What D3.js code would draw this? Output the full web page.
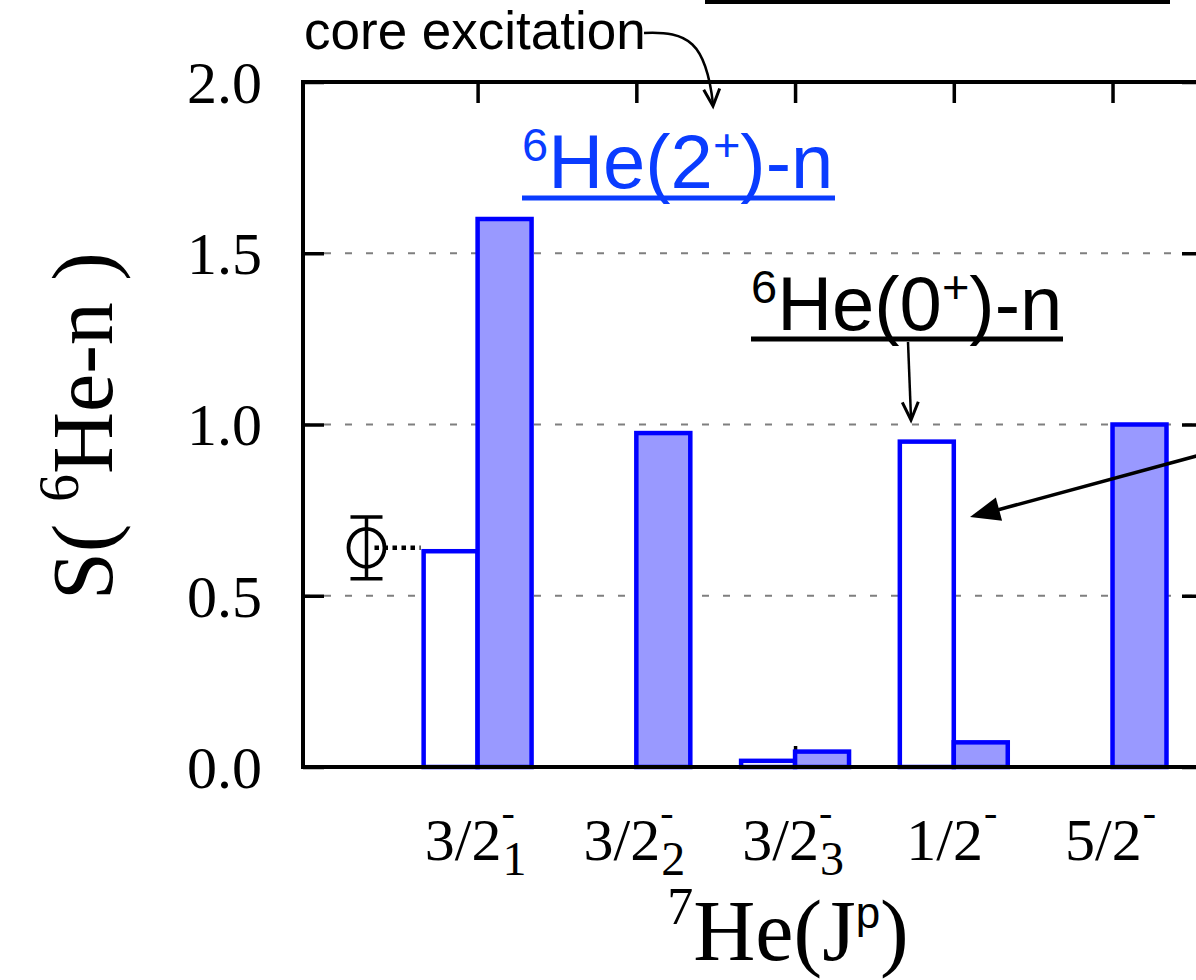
<!DOCTYPE html>
<html>
<head>
<meta charset="utf-8">
<script src="https://cdn.jsdelivr.net/npm/d3@7/dist/d3.min.js"></script>
<style>
  html, body { margin: 0; padding: 0; background: #fff; }
  svg { display: block; }
</style>
</head>
<body>
<svg id="chart" width="1196" height="980"></svg>
<script>
// 7He states (J^pi) and spectroscopic factors of the 6He-n channels
const states      = ["3/2", "3/2", "3/2", "1/2", "5/2"];
const stateSub    = ["1", "2", "3", "", ""];
const stateSup    = ["-", "-", "-", "-", "-"];
const coreGround  = [0.63, 0.0, 0.018, 0.95, 0.0];    // 6He(0+)-n
const coreExcited = [1.60, 0.975, 0.045, 0.072, 1.0]; // 6He(2+)-n

// experimental value for the ground state
const expPos   = [-0.7];
const expValue = [0.64];
const expError = [0.09];

const yTickValues = [0, 0.5, 1.0, 1.5, 2.0];
const yGridValues = [0.5, 1.0, 1.5];

const svg = d3.select("#chart");
const plot = { left: 303, right: 1203, top: 82, bottom: 767 };
const x = d3.scaleLinear().domain([-1.1, 4.57]).range([plot.left, plot.right]);
const y = d3.scaleLinear().domain([0, 2]).range([plot.bottom, plot.top]);
const barW = 0.34;
const tickLen = 21;

const serif = "'Liberation Serif','Times New Roman',Times,serif";
const sans  = "'Liberation Sans',Arial,Helvetica,sans-serif";
const barStroke = "#0000ff";
const barFill = "#9999ff";

// dashed grid
svg.append("g").selectAll("line").data(yGridValues).join("line")
  .attr("x1", plot.left).attr("x2", plot.right)
  .attr("y1", d => y(d)).attr("y2", d => y(d))
  .attr("stroke", "#7f7f7f").attr("stroke-width", 2.2)
  .attr("stroke-dasharray", "7,14");

// inward ticks on all four sides
function styleTicks(g) {
  g.select(".domain").remove();
  g.selectAll(".tick line").attr("stroke", "#000").attr("stroke-width", 3.5);
}
const idx = d3.range(states.length);

svg.append("g").attr("transform", `translate(0,${plot.bottom})`)
  .call(d3.axisBottom(x).tickValues(idx).tickSizeInner(-tickLen).tickSizeOuter(0).tickFormat(""))
  .call(styleTicks);
svg.append("g").attr("transform", `translate(0,${plot.top})`)
  .call(d3.axisTop(x).tickValues(idx).tickSizeInner(-tickLen).tickSizeOuter(0).tickFormat(""))
  .call(styleTicks);
svg.append("g").attr("transform", `translate(${plot.right},0)`)
  .call(d3.axisRight(y).tickValues(yTickValues).tickSizeInner(-tickLen).tickSizeOuter(0).tickFormat(""))
  .call(styleTicks);

const yAxis = svg.append("g").attr("transform", `translate(${plot.left},0)`)
  .call(d3.axisLeft(y).tickValues(yTickValues).tickSizeInner(-tickLen).tickSizeOuter(0)
    .tickPadding(41).tickFormat(d3.format(".1f")))
  .call(styleTicks);
yAxis.selectAll(".tick text")
  .attr("font-family", serif).attr("font-size", 60).attr("fill", "#000")
  .attr("dy", "0.34em");

// bars: 6He(0+)-n (open) and 6He(2+)-n (filled)
const bars = svg.append("g");
bars.selectAll("rect.ground").data(coreGround).join("rect")
  .attr("class", "ground")
  .attr("x", (d, i) => x(i - barW)).attr("width", (d, i) => x(i) - x(i - barW))
  .attr("y", d => y(d)).attr("height", d => y(0) - y(d))
  .attr("fill", "#fff").attr("stroke", barStroke).attr("stroke-width", 4.5);
bars.selectAll("rect.excited").data(coreExcited).join("rect")
  .attr("class", "excited")
  .attr("x", (d, i) => x(i)).attr("width", (d, i) => x(i + barW) - x(i))
  .attr("y", d => y(d)).attr("height", d => y(0) - y(d))
  .attr("fill", barFill).attr("stroke", barStroke).attr("stroke-width", 4.5);

// frame
const frame = svg.append("g").attr("stroke", "#000").attr("stroke-width", 4);
frame.append("line").attr("x1", plot.left).attr("x2", plot.right).attr("y1", plot.bottom).attr("y2", plot.bottom);
frame.append("line").attr("x1", plot.left).attr("x2", plot.right).attr("y1", plot.top).attr("y2", plot.top);
frame.append("line").attr("x1", plot.left).attr("x2", plot.left).attr("y1", plot.top - 2).attr("y2", plot.bottom + 2);
frame.append("line").attr("x1", plot.right).attr("x2", plot.right).attr("y1", plot.top - 2).attr("y2", plot.bottom + 2);

// category labels J^pi with state index (subscript) and parity (superscript)
const labelY = 860;
const catLabels = svg.append("g").attr("font-family", serif).attr("font-size", 60).attr("fill", "#000");
idx.forEach(i => {
  const t = catLabels.append("text").attr("text-anchor", "middle")
    .attr("x", x(i) - 2).attr("y", labelY);
  t.append("tspan").text(states[i]);
  if (stateSub[i]) {
    t.append("tspan").attr("font-size", 48).attr("dx", 1).attr("dy", 15).text(stateSub[i]);
    t.append("tspan").attr("font-size", 40).attr("dx", -25).attr("dy", -49).text(stateSup[i]);
  } else {
    t.append("tspan").attr("font-size", 40).attr("dx", 1).attr("dy", -34).text(stateSup[i]);
  }
});

// axis titles
const xTitle = svg.append("text").attr("font-family", serif).attr("font-size", 86)
  .attr("text-anchor", "middle").attr("x", 788).attr("y", 960);
xTitle.append("tspan").attr("font-size", 52).attr("dy", -36).text("7");
xTitle.append("tspan").attr("dy", 36).text("He(J");
xTitle.append("tspan").attr("font-family", sans).attr("font-size", 44).attr("dy", -32).text("p");
xTitle.append("tspan").attr("dy", 32).text(")");

const yTitle = svg.append("text").attr("font-family", serif).attr("font-size", 86)
  .attr("text-anchor", "middle")
  .attr("transform", "translate(112,426) rotate(-90)");
yTitle.append("tspan").text("S( ");
yTitle.append("tspan").attr("font-size", 56).attr("dy", -34).text("6");
yTitle.append("tspan").attr("dy", 34).text("He-n )");

// experimental point with error bar, joined to the calculated ground state
const expG = svg.append("g").attr("stroke", "#000").attr("fill", "none");
expPos.forEach((p, k) => {
  const cx = x(p), cy = y(expValue[k]);
  expG.append("line").attr("x1", cx + 8).attr("x2", x(0 - barW) - 3)
    .attr("y1", cy).attr("y2", cy)
    .attr("stroke-width", 4.5).attr("stroke-dasharray", "4.5,4.5");
  expG.append("line").attr("x1", cx).attr("x2", cx)
    .attr("y1", y(expValue[k] + expError[k])).attr("y2", y(expValue[k] - expError[k]))
    .attr("stroke-width", 3.5);
  [expValue[k] + expError[k], expValue[k] - expError[k]].forEach(v => {
    expG.append("line").attr("x1", cx - 16).attr("x2", cx + 16)
      .attr("y1", y(v)).attr("y2", y(v)).attr("stroke-width", 3.5);
  });
  expG.append("ellipse").attr("cx", cx).attr("cy", cy).attr("rx", 18).attr("ry", 19)
    .attr("stroke-width", 3.8);
});

// annotations
function head(g, tip, from, len, half, filled) {
  const a = Math.atan2(tip[1] - from[1], tip[0] - from[0]);
  const p1 = [tip[0] - len * Math.cos(a) + half * Math.sin(a), tip[1] - len * Math.sin(a) - half * Math.cos(a)];
  const p2 = [tip[0] - len * Math.cos(a) - half * Math.sin(a), tip[1] - len * Math.sin(a) + half * Math.cos(a)];
  if (filled) {
    g.append("path").attr("d", `M${p1}L${tip}L${p2}Z`).attr("fill", "#000");
  } else {
    g.append("path").attr("d", `M${p1}L${tip}L${p2}`).attr("fill", "none")
      .attr("stroke", "#000").attr("stroke-width", 3);
  }
}
const ann = svg.append("g");

ann.append("text").attr("font-family", sans).attr("font-size", 53)
  .attr("x", 304).attr("y", 49).text("core excitation");
ann.append("path").attr("d", "M644,33 C688,31 706,42 713,104")
  .attr("fill", "none").attr("stroke", "#000").attr("stroke-width", 2.5);
head(ann, [713, 106], [711, 80], 17, 8, false);

const exLabel = ann.append("text").attr("font-family", sans).attr("font-size", 76)
  .attr("fill", "#0a3cff").attr("x", 522).attr("y", 188);
exLabel.append("tspan").attr("font-size", 47).attr("dy", -27).text("6");
exLabel.append("tspan").attr("dy", 27).text("He(2");
exLabel.append("tspan").attr("font-size", 47).attr("dy", -27).text("+");
exLabel.append("tspan").attr("dy", 27).text(")-n");
ann.append("line").attr("x1", 522).attr("x2", 835).attr("y1", 198).attr("y2", 198)
  .attr("stroke", "#0a3cff").attr("stroke-width", 5);

const gsLabel = ann.append("text").attr("font-family", sans).attr("font-size", 76)
  .attr("fill", "#000").attr("x", 751).attr("y", 330);
gsLabel.append("tspan").attr("font-size", 47).attr("dy", -27).text("6");
gsLabel.append("tspan").attr("dy", 27).text("He(0");
gsLabel.append("tspan").attr("font-size", 47).attr("dy", -27).text("+");
gsLabel.append("tspan").attr("dy", 27).text(")-n");
ann.append("line").attr("x1", 751).attr("x2", 1063).attr("y1", 339).attr("y2", 339)
  .attr("stroke", "#000").attr("stroke-width", 5);
ann.append("line").attr("x1", 908).attr("x2", 911).attr("y1", 342).attr("y2", 418)
  .attr("stroke", "#000").attr("stroke-width", 2.5);
head(ann, [911, 420], [908, 342], 18, 8, false);

ann.append("line").attr("x1", 1200).attr("x2", 990).attr("y1", 455).attr("y2", 512)
  .attr("stroke", "#000").attr("stroke-width", 3.5);
head(ann, [970, 517], [1200, 455], 30, 12, true);

ann.append("line").attr("x1", 705).attr("x2", 1170).attr("y1", 2).attr("y2", 2)
  .attr("stroke", "#000").attr("stroke-width", 4);
</script>
</body>
</html>
